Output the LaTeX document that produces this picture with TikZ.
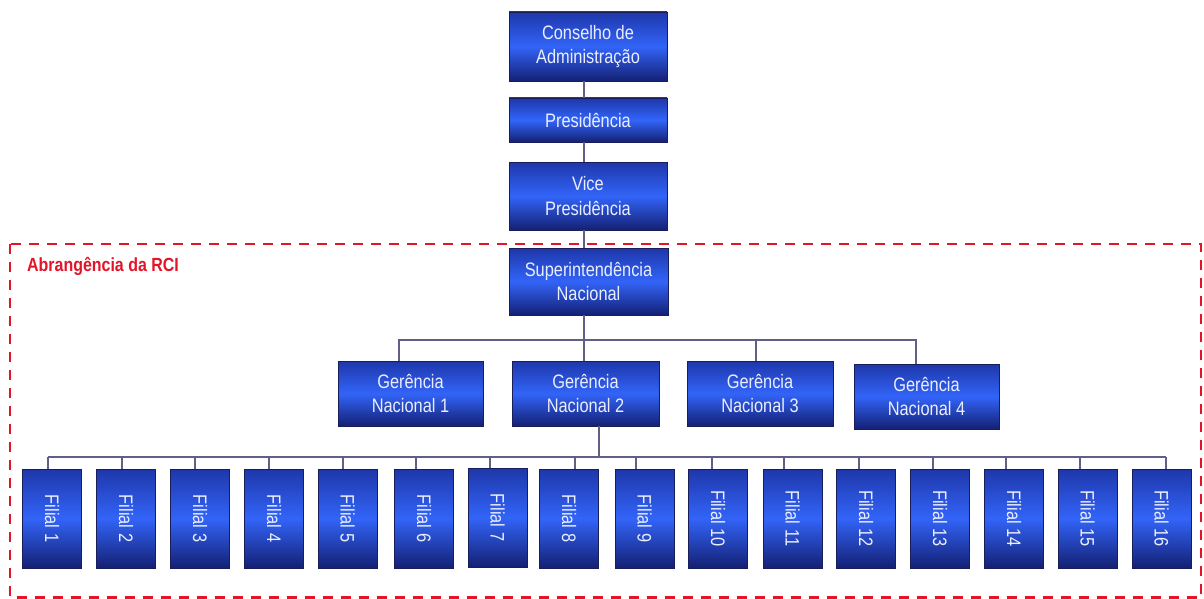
\documentclass[tikz,border=0pt]{standalone}
\usepackage{fontspec}
\setmainfont{Liberation Sans}[FakeStretch=0.84]
\usepackage{graphicx}
\definecolor{boxtop}{RGB}{30,55,170}
\definecolor{boxmid}{RGB}{50,100,248}
\definecolor{boxbot}{RGB}{20,32,115}
\definecolor{boxedge}{RGB}{25,30,90}
\definecolor{conncol}{RGB}{95,95,135}
\definecolor{rcired}{RGB}{228,20,40}
\definecolor{boxtext}{RGB}{235,238,255}
\tikzset{
  orgbox/.style={draw=boxedge, line width=0.8pt, top color=boxtop, bottom color=boxbot, middle color=boxmid,
    text=boxtext, align=center, inner sep=0pt, font=\fontsize{19.5}{24.5}\selectfont},
  filbox/.style={orgbox, minimum width=59pt, minimum height=99pt},
  gnbox/.style={orgbox, minimum width=146pt, minimum height=65pt},
  conn/.style={draw=conncol, line width=1.3pt},
  rciframe/.style={draw=rcired, line width=2.5pt, dash pattern=on 10pt off 8pt},
}
\begin{document}
\begin{tikzpicture}[x=1pt,y=-1pt]
\useasboundingbox[fill=white] (0,0) rectangle (1204,599);
% scope frame
\draw[rciframe] (10,244) rectangle (1201,597.5);
\node[anchor=base west, text=rcired, inner sep=0pt, font=\fontsize{19}{22}\selectfont\bfseries] (rci) at (27,271) {Abrangência da RCI};
% top chain
\node[orgbox, minimum width=158pt, minimum height=69pt] (cons) at (588,46.5) {Conselho de\\Administração};
\node[orgbox, minimum width=158pt, minimum height=44pt] (pres) at (588,120) {Presidência};
\node[orgbox, minimum width=158pt, minimum height=68pt] (vice) at (588,196) {Vice\\Presidência};
\node[orgbox, minimum width=159pt, minimum height=67pt] (sup) at (588.5,281.5) {Superintendência\\Nacional};
\draw[conn] ([xshift=-4pt]cons.south) -- ([xshift=-4pt]pres.north);
\draw[conn] ([xshift=-4pt]pres.south) -- ([xshift=-4pt]vice.north);
\draw[conn] ([xshift=-4pt]vice.south) -- ([xshift=-4.5pt]sup.north);
% gerencias
\node[gnbox, minimum width=145pt] (gn1) at (410.5,393.5) {Gerência\\Nacional 1};
\node[gnbox, minimum width=147pt] (gn2) at (585.5,393.5) {Gerência\\Nacional 2};
\node[gnbox] (gn3) at (760,393.5) {Gerência\\Nacional 3};
\node[gnbox, minimum width=145pt] (gn4) at (926.5,396.5) {Gerência\\Nacional 4};
\coordinate (busa) at (584,340);
\draw[conn] ([xshift=-4.5pt]sup.south) -- (busa);
\draw[conn] ([xshift=-11.5pt]gn1.north) |- ([xshift=-10.5pt]gn4.north |- busa) -- ([xshift=-10.5pt]gn4.north);
\draw[conn] (busa) -- ([xshift=-1.5pt]gn2.north);
\draw[conn] ([xshift=-4pt]gn3.north) -- ([xshift=-4pt]gn3.north |- busa);
% filiais
\coordinate (busb) at (599,457);
\coordinate (busbl) at (48,457);
\coordinate (busbr) at (1166,457);
\draw[conn] ([xshift=13.5pt]gn2.south) -- (busb);
\draw[conn] (busbl) -- (busbr);
\foreach \i/\cx/\lx/\cy in {1/52/48/518.5, 2/126/122/518.5, 3/200/195/518.5, 4/274/269/518.5, 5/347.5/343/518.5,
  6/424/416/518.5, 7/497.5/490/517.5, 8/569/575/518.5, 9/644.5/636/518.5, 10/718/712/518.5, 11/792.5/784/518.5,
  12/866/859/518.5, 13/940/933/518.5, 14/1014/1006/518.5, 15/1087.5/1080/518.5, 16/1161.5/1166/518.5}{
  \node[filbox] (f\i) at (\cx,\cy) {\rotatebox{-90}{Filial \i}};
  \draw[conn] (f\i.north -| \lx,0) -- (\lx,457);
}
\end{tikzpicture}
\end{document}
